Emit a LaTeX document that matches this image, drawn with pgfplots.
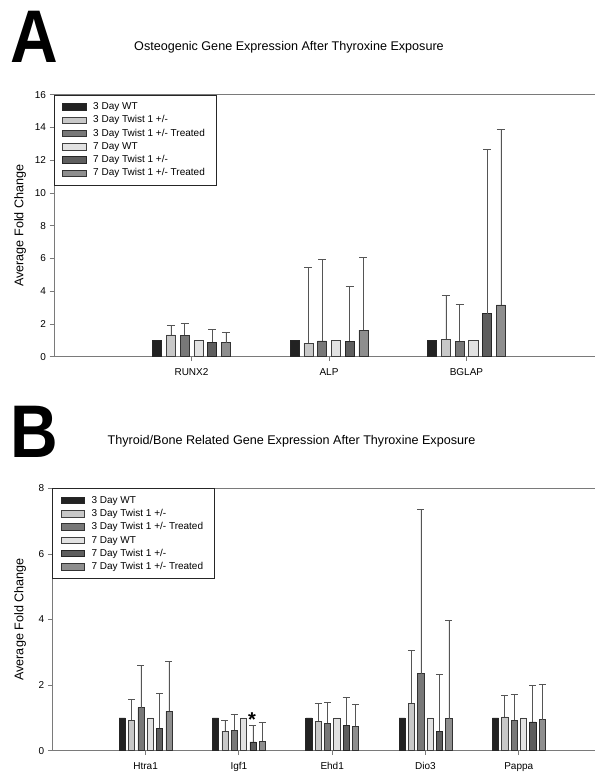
\documentclass[border=0pt]{standalone}
\usepackage{pgfplots}
\usepackage{pgfplotstable}
\pgfplotsset{compat=1.18}
\usepackage{fontspec}
\setmainfont{Liberation Sans}

\definecolor{cA}{HTML}{222222}
\definecolor{cB}{HTML}{C8C8C8}
\definecolor{cC}{HTML}{787878}
\definecolor{cD}{HTML}{E2E2E2}
\definecolor{cE}{HTML}{5E5E5E}
\definecolor{cF}{HTML}{8E8E8E}
\definecolor{axc}{HTML}{7A7A7A}
\definecolor{errc}{HTML}{555555}

\pgfplotstableread{
x y1 y2 e2 y3 e3 y4 y5 e5 y6 e6
1 1.00 1.33 0.61 1.31 0.75 1.00 0.88 0.77 0.86 0.63
2 1.00 0.82 4.63 0.97 4.98 1.00 0.95 3.35 1.63 4.42
3 1.00 1.07 2.68 0.93 2.25 1.00 2.63 10.03 3.16 10.72
}\dataA

\pgfplotstableread{
x y1 y2 e2 y3 e3 y4 y5 e5 y6 e6
1 1.00 0.93 0.62 1.31 1.29 1.00 0.68 1.07 1.20 1.51
2 1.00 0.60 0.31 0.63 0.49 1.00 0.27 0.50 0.29 0.56
3 1.00 0.90 0.54 0.84 0.64 1.00 0.78 0.84 0.74 0.66
4 1.00 1.45 1.61 2.35 5.00 1.00 0.59 1.74 0.98 2.98
5 1.00 1.03 0.67 0.93 0.79 1.00 0.88 1.12 0.95 1.08
}\dataB

\pgfplotsset{
  errstyle/.style={error bars/.cd, y dir=plus, y explicit,
    error bar style={errc, line width=0.6pt},
    error mark options={rotate=90, mark size=#1, errc, line width=0.8pt}},
  mybar/.style={
    scale only axis, ybar, bar width=0.066, ymin=0,
    axis x line*=box, axis y line*=left,
    xtick pos=bottom, ytick pos=left,
    axis line style={axc, line width=0.9pt},
    every tick/.style={axc, line width=0.8pt},
    tick align=outside, major tick length=4.5pt,
    /pgf/number format/assume math mode=true,
    tick label style={font=\fontsize{10}{12}\selectfont},
    xticklabel style={yshift=-4pt},
    legend cell align=left,
    legend style={at={(0,1)}, anchor=north west, draw=black!85, line width=0.6pt,
      inner xsep=8pt, inner ysep=7pt, row sep=3.8pt, column sep=4pt,
      font=\fontsize{10}{12}\selectfont,
      nodes={inner sep=0pt, inner xsep=3pt, text height=7.5pt, text depth=2pt}},
    legend image code/.code={\draw[##1, line width=0.6pt] (0pt,-3.2pt) rectangle (23.3pt,3.2pt);},
  }
}

\begin{document}
\begin{tikzpicture}
\path[use as bounding box] (0,0) rectangle (595pt,773pt);

% Panel letters and titles
\node[font=\fontsize{66}{70}\selectfont\bfseries, yscale=1.13, inner sep=0pt] at (34.5pt,736pt) {A};
\node[font=\fontsize{12.6}{15}\selectfont] at (289pt,726pt) {Osteogenic Gene Expression After Thyroxine Exposure};
\node[font=\fontsize{66}{70}\selectfont\bfseries, yscale=1.13, inner sep=0pt] at (34.5pt,341.5pt) {B};
\node[font=\fontsize{12.6}{15}\selectfont] at (291.5pt,332pt) {Thyroid/Bone Related Gene Expression After Thyroxine Exposure};

% Panel A
\begin{axis}[mybar,
  at={(54pt,416.3pt)}, anchor=south west,
  width=541pt, height=262pt,
  xmin=0, xmax=3.935, ymax=16,
  ytick={0,2,...,16},
  xtick={1,2,3}, xticklabels={RUNX2,ALP,BGLAP},
  ylabel={Average Fold Change},
  every axis y label/.style={at={(axis description cs:-0.0628,0.5)}, rotate=90, anchor=center, font=\fontsize{12.6}{15}\selectfont},
]
\addplot[fill=cA, draw=black!85, line width=0.6pt, bar shift=-0.25] table[x=x,y=y1]{\dataA};
\addplot[fill=cB, draw=black!75, line width=0.6pt, bar shift=-0.15, errstyle=4pt] table[x=x,y=y2,y error=e2]{\dataA};
\addplot[fill=cC, draw=black!80, line width=0.6pt, bar shift=-0.05, errstyle=4pt] table[x=x,y=y3,y error=e3]{\dataA};
\addplot[fill=cD, draw=black!75, line width=0.6pt, bar shift=0.05] table[x=x,y=y4]{\dataA};
\addplot[fill=cE, draw=black!85, line width=0.6pt, bar shift=0.15, errstyle=4pt] table[x=x,y=y5,y error=e5]{\dataA};
\addplot[fill=cF, draw=black!80, line width=0.6pt, bar shift=0.25, errstyle=4pt] table[x=x,y=y6,y error=e6]{\dataA};
\legend{3 Day WT, 3 Day Twist 1 +/-, 3 Day Twist 1 +/- Treated, 7 Day WT, 7 Day Twist 1 +/-, 7 Day Twist 1 +/- Treated}
\end{axis}

% Panel B
\begin{axis}[mybar,
  at={(52.3pt,22.3pt)}, anchor=south west,
  width=542.7pt, height=262.4pt,
  xmin=0, xmax=5.817, ymax=8,
  ytick={0,2,...,8},
  xtick={1,2,3,4,5}, xticklabels={Htra1,Igf1,Ehd1,Dio3,Pappa},
  ylabel={Average Fold Change},
  every axis y label/.style={at={(axis description cs:-0.0595,0.5)}, rotate=90, anchor=center, font=\fontsize{12.6}{15}\selectfont},
]
\addplot[fill=cA, draw=black!85, line width=0.6pt, bar shift=-0.25] table[x=x,y=y1]{\dataB};
\addplot[fill=cB, draw=black!75, line width=0.6pt, bar shift=-0.15, errstyle=3.5pt] table[x=x,y=y2,y error=e2]{\dataB};
\addplot[fill=cC, draw=black!80, line width=0.6pt, bar shift=-0.05, errstyle=3.5pt] table[x=x,y=y3,y error=e3]{\dataB};
\addplot[fill=cD, draw=black!75, line width=0.6pt, bar shift=0.05] table[x=x,y=y4]{\dataB};
\addplot[fill=cE, draw=black!85, line width=0.6pt, bar shift=0.15, errstyle=3.5pt] table[x=x,y=y5,y error=e5]{\dataB};
\addplot[fill=cF, draw=black!80, line width=0.6pt, bar shift=0.25, errstyle=3.5pt] table[x=x,y=y6,y error=e6]{\dataB};
\legend{3 Day WT, 3 Day Twist 1 +/-, 3 Day Twist 1 +/- Treated, 7 Day WT, 7 Day Twist 1 +/-, 7 Day Twist 1 +/- Treated}
\node[font=\fontsize{20}{22}\selectfont\bfseries, inner sep=0pt, anchor=north] at (axis cs:2.14,1.17) {*};
\end{axis}
\end{tikzpicture}
\end{document}
